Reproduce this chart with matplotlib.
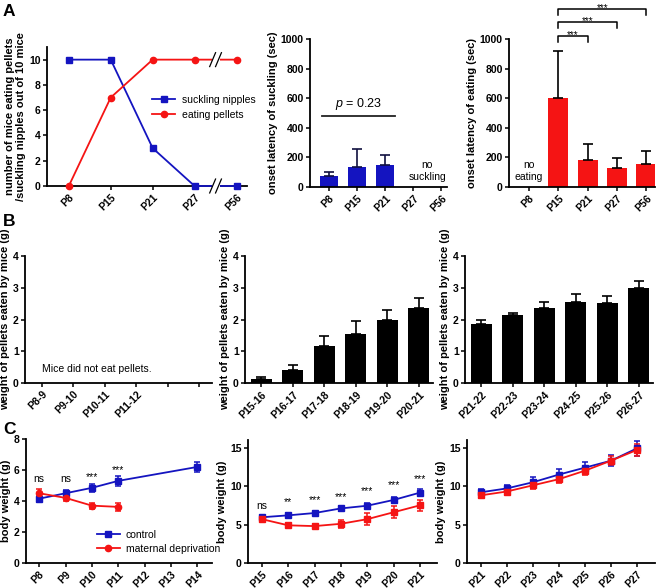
import numpy as np
import matplotlib
matplotlib.use("Agg")
import matplotlib.pyplot as plt
from matplotlib.lines import Line2D

plt.rcParams['font.family'] = ['Liberation Sans', 'DejaVu Sans']
plt.rcParams['mathtext.fontset'] = 'custom'
plt.rcParams['mathtext.it'] = 'Liberation Sans:italic'
plt.rcParams['mathtext.rm'] = 'Liberation Sans'

blue = '#1414c0'
red = '#f51414'

# ---- data ----
# panel A
a_days = ["P8", "P15", "P21", "P27", "P56"]
suckling_n = [10, 10, 3, 0, 0]
eating_n = [0, 7, 10, 10, 10]

suck_lat = [75, 135, 150, 0, 0]
suck_err = [25, 125, 65, 0, 0]
eat_lat = [0, 600, 185, 128, 155]
eat_err = [0, 320, 105, 68, 88]

# panel B
b1_days = ["P8-9", "P9-10", "P10-11", "P11-12", "", ""]
b2_days = ["P15-16", "P16-17", "P17-18", "P18-19", "P19-20", "P20-21"]
b2_w = [0.13, 0.42, 1.15, 1.55, 2.0, 2.37]
b2_err = [0.05, 0.15, 0.33, 0.4, 0.3, 0.3]
b3_days = ["P21-22", "P22-23", "P23-24", "P24-25", "P25-26", "P26-27"]
b3_w = [1.85, 2.13, 2.36, 2.56, 2.51, 2.99]
b3_err = [0.14, 0.09, 0.2, 0.23, 0.24, 0.22]

# panel C
c1_days = ["P8", "P9", "P10", "P11", "P12", "P13", "P14"]
c1_ctrl_x = [0, 1, 2, 3, 6]
c1_ctrl = [4.15, 4.5, 4.85, 5.3, 6.2]
c1_ctrl_err = [0.2, 0.2, 0.25, 0.3, 0.3]
c1_md_x = [0, 1, 2, 3]
c1_md = [4.5, 4.2, 3.7, 3.62]
c1_md_err = [0.3, 0.2, 0.2, 0.25]
c1_sig = ["ns", "ns", "***", "***"]
c1_sig_y = [5.4, 5.4, 5.55, 6.0]

c2_days = ["P15", "P16", "P17", "P18", "P19", "P20", "P21"]
c2_ctrl = [5.95, 6.2, 6.5, 7.1, 7.45, 8.2, 9.15]
c2_ctrl_err = [0.3, 0.35, 0.3, 0.3, 0.4, 0.45, 0.45]
c2_md = [5.7, 4.9, 4.8, 5.1, 5.7, 6.6, 7.5]
c2_md_err = [0.2, 0.2, 0.3, 0.55, 0.8, 0.75, 0.75]
c2_sig = ["ns", "**", "***", "***", "***", "***", "***"]
c2_sig_y = [7.4, 7.9, 8.2, 8.6, 9.3, 10.1, 10.9]

c3_days = ["P21", "P22", "P23", "P24", "P25", "P26", "P27"]
c3_ctrl = [9.2, 9.7, 10.5, 11.5, 12.4, 13.3, 14.9]
c3_ctrl_err = [0.45, 0.5, 0.7, 0.7, 0.8, 0.7, 1.0]
c3_md = [8.8, 9.3, 10.1, 10.9, 12.0, 13.3, 14.7]
c3_md_err = [0.35, 0.4, 0.5, 0.5, 0.5, 0.6, 0.8]

W, H = 660, 588
fig = plt.figure(figsize=(W / 100, H / 100), dpi=100)

def px_axes(l, t, r, b):
    return fig.add_axes([l / W, 1 - b / H, (r - l) / W, (b - t) / H])

def style(ax):
    for s in ['top', 'right']:
        ax.spines[s].set_visible(False)
    for s in ['left', 'bottom']:
        ax.spines[s].set_linewidth(1.3)
    ax.tick_params(width=1.1, length=3, labelsize=7.5, pad=1.5)
    for lab in ax.get_yticklabels():
        lab.set_fontweight('bold')

def xlabels(ax, labels):
    ax.set_xticks(range(len(labels)))
    ax.set_xticklabels(labels, rotation=45, ha='right', rotation_mode='anchor',
                       fontweight='bold', fontsize=7.5)

def ylab(ax, text):
    ax.set_ylabel(text, fontweight='bold', fontsize=8, labelpad=2)

# ---- A1 ----
ax = px_axes(47, 47, 247, 186)
xa = np.arange(len(a_days))
ax.plot(xa, suckling_n, '-s', color=blue, ms=4.5, lw=1.3, label='suckling nipples', clip_on=False, zorder=3)
ax.plot(xa, eating_n, '-o', color=red, ms=4.5, lw=1.3, label='eating pellets', clip_on=False, zorder=3)
ax.set_xlim(-0.52, 4.25)
ax.set_ylim(0, 11)
ax.set_yticks([0, 2, 4, 6, 8, 10])
style(ax)
xlabels(ax, a_days)
ylab(ax, "number of mice eating pellets\n/suckling nipples out of 10 mice")
# axis break marks
for yb in [0, 10]:
    ax.plot([3.42, 3.6], [yb, yb], color='white', lw=4, zorder=4, clip_on=False, solid_capstyle='butt')
    for dx in [3.43, 3.57]:
        ax.plot([dx - 0.07, dx + 0.07], [yb - 0.55, yb + 0.55], color='black', lw=0.9, zorder=5, clip_on=False)
ax.legend(loc='center left', bbox_to_anchor=(0.48, 0.565), frameon=False, fontsize=7.5,
          handlelength=2.2, handletextpad=0.6, labelspacing=0.5)

# ---- A2 ----
ax = px_axes(310, 39, 447, 187)
ax.bar(xa, suck_lat, width=0.65, color=blue)
ax.errorbar(xa[:3], suck_lat[:3], yerr=[np.zeros(3), suck_err[:3]], fmt='none', ecolor='#101040',
            elinewidth=1.2, capsize=3.5, capthick=1.2)
ax.set_xlim(-0.68, 4.2)
ax.set_ylim(0, 1000)
ax.set_yticks([0, 200, 400, 600, 800, 1000])
style(ax)
xlabels(ax, a_days)
ylab(ax, "onset latency of suckling (sec)")
ax.plot([-0.25, 2.35], [480, 480], color='#222222', lw=1.3)
ax.text(1.05, 560, "$p$ = 0.23", ha='center', va='center', fontsize=9)
ax.text(3.5, 110, "no\nsuckling", ha='center', va='center', fontsize=7.5, linespacing=1.2)

# ---- A3 ----
ax = px_axes(509, 39, 655, 187)
ax.bar(xa, eat_lat, width=0.68, color=red)
ax.errorbar(xa[1:], eat_lat[1:], yerr=[np.zeros(4), eat_err[1:]], fmt='none', ecolor='black',
            elinewidth=1.2, capsize=3.5, capthick=1.2)
ax.set_xlim(-0.68, 4.3)
ax.set_ylim(0, 1000)
ax.set_yticks([0, 200, 400, 600, 800, 1000])
style(ax)
xlabels(ax, a_days)
ylab(ax, "onset latency of eating (sec)")
ax.text(0, 110, "no\neating", ha='center', va='center', fontsize=7.5, linespacing=1.2)
for x2, yb in [(2, 1018), (3, 1113), (4, 1203)]:
    ax.plot([1, 1, x2, x2], [yb - 40, yb, yb, yb - 40], color='black', lw=1.1, clip_on=False)
    ax.text((1 + x2) / 2, yb + 8, "***", ha='center', va='center', fontsize=7)

# ---- B1 ----
ax = px_axes(25, 256, 212, 383)
ax.set_xlim(-0.54, 5.41)
ax.set_ylim(0, 4)
ax.set_yticks([0, 1, 2, 3, 4])
style(ax)
xlabels(ax, b1_days)
ylab(ax, "weight of pellets eaten by mice (g)")
ax.text(0.0, 0.45, "Mice did not eat pellets.", ha='left', va='center', fontsize=7.5)

# ---- B2, B3 ----
for (l, r, days, w, e) in [(245, 433, b2_days, b2_w, b2_err), (465, 653, b3_days, b3_w, b3_err)]:
    ax = px_axes(l, 256, r, 383)
    xb = np.arange(len(days))
    ax.bar(xb, w, width=0.67, color='black')
    ax.errorbar(xb, w, yerr=[np.zeros(len(e)), e], fmt='none', ecolor='black',
                elinewidth=1.2, capsize=3.5, capthick=1.2)
    ax.set_xlim(-0.52, 5.45)
    ax.set_ylim(0, 4)
    ax.set_yticks([0, 1, 2, 3, 4])
    style(ax)
    xlabels(ax, days)
    ylab(ax, "weight of pellets eaten by mice (g)")

# ---- C ----
def lines(ax, xc, yc, ec, xm, ym, em, mmark='o'):
    ax.errorbar(xc, yc, yerr=ec, fmt='-s', color=blue, ms=4.5, lw=1.3, elinewidth=1.1,
                capsize=2.5, capthick=1.1, zorder=3)
    ax.errorbar(xm, ym, yerr=em, fmt='-' + mmark, color=red, ms=4.5, lw=1.3, elinewidth=1.1,
                capsize=2.5, capthick=1.1, zorder=3)

ax = px_axes(26, 439, 212, 563)
lines(ax, c1_ctrl_x, c1_ctrl, c1_ctrl_err, c1_md_x, c1_md, c1_md_err)
ax.set_xlim(-0.5, 6.55)
ax.set_ylim(0, 8)
ax.set_yticks([0, 2, 4, 6, 8])
style(ax)
xlabels(ax, c1_days)
ylab(ax, "body weight (g)")
for i, s in enumerate(c1_sig):
    ax.text(i, c1_sig_y[i], s, ha='center', va='center', fontsize=7.5)
handles = [Line2D([], [], color=blue, marker='s', ms=4.5, lw=1.3),
           Line2D([], [], color=red, marker='o', ms=4.5, lw=1.3)]
ax.legend(handles, ['control', 'maternal deprivation'], loc='lower left',
          bbox_to_anchor=(0.33, 0.0), frameon=False, fontsize=7.5,
          handlelength=2.2, handletextpad=0.6, labelspacing=0.35)

ax = px_axes(248, 440, 437, 563)
xc = np.arange(len(c2_days))
lines(ax, xc, c2_ctrl, c2_ctrl_err, xc, c2_md, c2_md_err, mmark='s')
ax.set_xlim(-0.53, 6.65)
ax.set_ylim(0, 16)
ax.set_yticks([0, 5, 10, 15])
style(ax)
xlabels(ax, c2_days)
ylab(ax, "body weight (g)")
for i, s in enumerate(c2_sig):
    ax.text(i, c2_sig_y[i], s, ha='center', va='center', fontsize=7.5)

ax = px_axes(467, 440, 655, 563)
xc = np.arange(len(c3_days))
lines(ax, xc, c3_ctrl, c3_ctrl_err, xc, c3_md, c3_md_err, mmark='s')
ax.set_xlim(-0.53, 6.7)
ax.set_ylim(0, 16)
ax.set_yticks([0, 5, 10, 15])
style(ax)
xlabels(ax, c3_days)
ylab(ax, "body weight (g)")

for letter, y in [("A", 11), ("B", 222), ("C", 429)]:
    fig.text(3 / W, 1 - y / H, letter, fontsize=12.5, fontweight='bold', ha='left', va='center')

fig.savefig("out.png", dpi=100)
